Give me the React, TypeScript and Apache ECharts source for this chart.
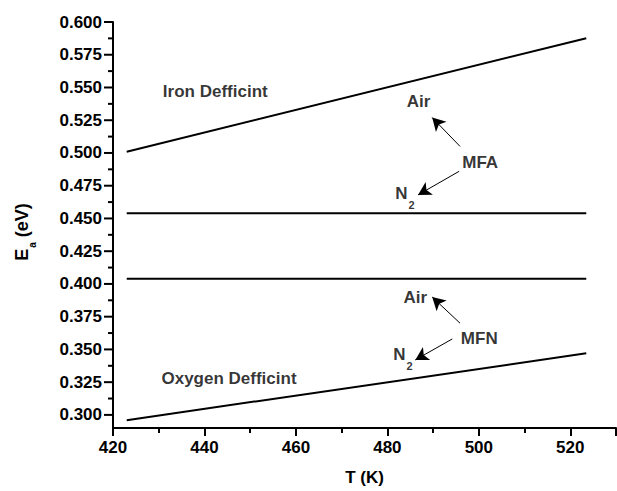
import React, { useEffect, useRef } from "react";
import * as echarts from "echarts";

// Lines (T in K, Ea in eV)
const ironDeficient: [number, number][] = [[423, 0.501], [523.5, 0.5876]];
const mfaN2: [number, number][] = [[423, 0.454], [523.5, 0.454]];
const mfnAir: [number, number][] = [[423, 0.404], [523.5, 0.404]];
const oxygenDeficient: [number, number][] = [[423, 0.296], [523.5, 0.347]];

// Annotation texts and anchor points (data coordinates)
const annotationTexts = ["Iron Defficint", "Air", "MFA", "{n|N}{s|2}", "Air", "MFN", "{n|N}{s|2}", "Oxygen Defficint"];
const annotationPoints: [number, number][] = [
  [430.9, 0.547], [486.8, 0.539], [500.3, 0.493], [481.7, 0.468],
  [486.1, 0.390], [500.1, 0.358], [481.3, 0.345], [430.6, 0.328],
];
const annotationAlign = ["left", "center", "center", "left", "center", "center", "left", "left"];

// Arrows: [from, to]
const arrows: [[number, number], [number, number]][] = [
  [[495.9, 0.505], [489.8, 0.527]],
  [[495.7, 0.486], [486.7, 0.468]],
  [[495.9, 0.370], [489.8, 0.390]],
  [[494.2, 0.358], [486.1, 0.342]],
];

const xRange = { min: 420, max: 530, interval: 20 };
const yRange = { min: 0.29, max: 0.6 };
const yMajorTicks = [0.3, 0.325, 0.35, 0.375, 0.4, 0.425, 0.45, 0.475, 0.5, 0.525, 0.55, 0.575, 0.6];
const yMinorTicks = [0.3125, 0.3375, 0.3625, 0.3875, 0.4125, 0.4375, 0.4625, 0.4875, 0.5125, 0.5375, 0.5625, 0.5875];

const FONT = "Liberation Sans, Arial, sans-serif";
const GRID = { left: 113, right: 1, top: 22, bottom: 60 };
const W = 617;
const H = 491;
const MAJOR_LEN = 9;
const MINOR_LEN = 5;

export default function App() {
  const ref = useRef<HTMLDivElement>(null);
  useEffect(() => {
    if (!ref.current) return;
    const chart = echarts.init(ref.current, null, { renderer: "svg" });
    const lineStyle = { color: "#000", width: 2 };
    const mkLine = (d: [number, number][]) => ({
      type: "line",
      data: d,
      showSymbol: false,
      symbol: "none",
      lineStyle,
      silent: true,
    });
    const txt = { fontWeight: "bold", fontFamily: FONT, color: "#000", textBorderWidth: 0 };
    const rich = {
      n: { ...txt, fontSize: 17, lineHeight: 19, verticalAlign: "top" },
      s: { ...txt, fontSize: 11, lineHeight: 11, padding: [14, 0, 0, 1], verticalAlign: "top" },
    };
    const black2 = { color: "#000", width: 2 };
    const tickData = [
      ...yMajorTicks.map((v) => [xRange.min, v, MAJOR_LEN]),
      ...yMinorTicks.map((v) => [xRange.min, v, MINOR_LEN]),
    ];
    chart.setOption({
      animation: false,
      backgroundColor: "#fff",
      grid: GRID,
      xAxis: {
        type: "value",
        min: xRange.min,
        max: xRange.max,
        interval: xRange.interval,
        name: "T (K)",
        nameLocation: "middle",
        nameGap: 41,
        nameTextStyle: { ...txt, fontSize: 17 },
        axisLine: { show: true, onZero: false, lineStyle: black2 },
        axisTick: { show: true, inside: false, length: 8, lineStyle: black2 },
        minorTick: { show: true, splitNumber: 2, length: 5, lineStyle: black2 },
        splitLine: { show: false },
        axisLabel: {
          ...txt,
          margin: 11,
          fontSize: 17,
          showMaxLabel: false,
          formatter: (v: number) => String(v),
        },
      },
      yAxis: {
        type: "value",
        position: "left",
        min: yRange.min,
        max: yRange.max,
        name: "{e|E}{a|a}{e| (eV)}",
        nameLocation: "middle",
        nameGap: 80,
        nameRotate: 90,
        nameTextStyle: {
          ...txt,
          fontSize: 18,
          padding: [0, 14, 0, 0],
          rich: {
            e: { ...txt, fontSize: 18, lineHeight: 20, verticalAlign: "top" },
            a: { ...txt, fontSize: 10, lineHeight: 10, padding: [14, 0, 0, 1], verticalAlign: "top" },
          },
        },
        axisLine: { show: true, onZero: false, lineStyle: black2 },
        axisTick: { show: false },
        splitLine: { show: false },
        axisLabel: {
          ...txt,
          margin: 11,
          fontSize: 17,
          customValues: yMajorTicks,
          formatter: (v: number) => v.toFixed(3),
        },
      },
      series: [
        mkLine(ironDeficient),
        mkLine(mfaN2),
        mkLine(mfnAir),
        mkLine(oxygenDeficient),
        {
          type: "custom",
          silent: true,
          clip: false,
          data: tickData,
          encode: { x: 0, y: 1 },
          renderItem: (_params: any, api: any) => {
            const p = api.coord([api.value(0), api.value(1)]);
            const len = api.value(2);
            return {
              type: "line",
              shape: { x1: p[0] - len, y1: p[1], x2: p[0], y2: p[1] },
              style: { stroke: "#000", lineWidth: 2 },
            };
          },
        },
        {
          type: "scatter",
          symbolSize: 0,
          silent: true,
          data: annotationPoints.map((p, i) => ({
            value: p,
            label: {
              show: true,
              position: "inside",
              align: annotationAlign[i],
              verticalAlign: "middle",
              formatter: annotationTexts[i],
              ...txt,
              fontSize: 17,
              textBorderColor: "transparent",
              rich,
            },
          })),
          markLine: {
            silent: true,
            symbol: ["none", "arrow"],
            symbolSize: [11, 13],
            label: { show: false },
            lineStyle: { color: "#000", width: 1, type: "solid" },
            data: arrows.map(([a, b]) => [{ coord: a }, { coord: b }]),
          },
        },
      ],
    });
    return () => chart.dispose();
  }, []);
  return <div ref={ref} style={{ width: W, height: H, position: "absolute", left: 0, top: 0 }} />;
}
